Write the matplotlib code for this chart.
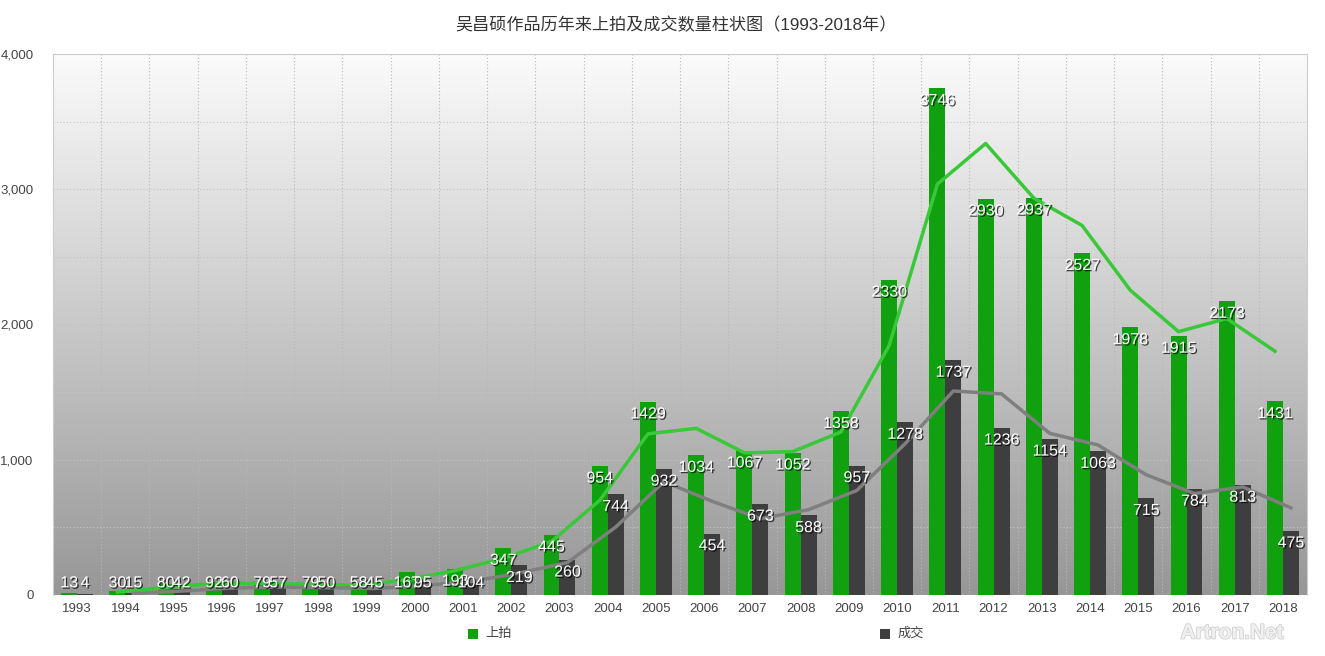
import numpy as np
import matplotlib
matplotlib.use("Agg")
import matplotlib.pyplot as plt
import matplotlib.patheffects as pe
from matplotlib.patches import Rectangle

plt.rcParams["font.family"] = ["Liberation Sans", "Noto Sans CJK SC", "DejaVu Sans"]

# =============================================================================

years = [str(y) for y in range(1993, 2019)]
auctioned = [13, 30, 80, 92, 79, 79, 58, 167, 193, 347, 445, 954, 1429, 1034,
             1067, 1052, 1358, 2330, 3746, 2930, 2937, 2527, 1978, 1915, 2173, 1431]
sold = [4, 15, 42, 60, 57, 50, 45, 95, 104, 219, 260, 744, 932, 454,
        673, 588, 957, 1278, 1737, 1236, 1154, 1063, 715, 784, 813, 475]
# trend lines (start at 1994)
auctioned_trend = [22, 55, 86, 86, 79, 69, 113, 180, 270, 396, 700, 1192, 1232,
                   1051, 1060, 1205, 1844, 3038, 3338, 2934, 2732, 2253, 1947, 2044, 1802]
sold_trend = [10, 29, 51, 59, 54, 48, 70, 100, 162, 240, 502, 838, 693,
              564, 631, 773, 1118, 1508, 1487, 1195, 1109, 889, 750, 799, 644]

GREEN = "#10a010"
DARK = "#3e3e3e"

# =============================================================================

fig = plt.figure(figsize=(13.25, 6.56), dpi=100)
ax = fig.add_axes([0.04, 0.093, 0.9465, 0.8247])

n = len(years)
idx = np.arange(n)
w = 0.33
ax.set_xlim(-0.5, n - 0.5)
ax.set_ylim(0, 4000)

# gradient background
grad = np.linspace(0, 1, 256).reshape(-1, 1)
ax.imshow(grad, extent=(-0.5, n - 0.5, 0, 4000), aspect="auto", origin="lower",
          cmap=matplotlib.colors.LinearSegmentedColormap.from_list(
              "bg", ["#979797", "#fbfbfb"]), zorder=0)

# grid
for y in np.arange(500, 4000, 500):
    ax.axhline(y, color="#c4c4c4", lw=0.8, ls=(0, (1, 2)), zorder=1)
for x in np.arange(0.5, n - 0.5, 1):
    ax.axvline(x, color="#b8b8b8", lw=0.8, ls=(0, (1, 2)), zorder=1)

ax.bar(idx - w / 2, auctioned, width=w, color=GREEN, zorder=2)
ax.bar(idx + w / 2, sold, width=w, color=DARK, zorder=2)

ax.plot(idx[1:] - w / 2, auctioned_trend, color="#38c838", lw=2.5, zorder=3,
        solid_joinstyle="round")
ax.plot(idx[1:] + w / 2, sold_trend, color="#7f7f7f", lw=2.5, zorder=3,
        solid_joinstyle="round")

shadow = [pe.withSimplePatchShadow(offset=(1, -1), shadow_rgbFace="black", alpha=0.7)]
for i in range(n):
    for xo, v in ((-w / 2, auctioned[i]), (w / 2, sold[i])):
        ax.text(i + xo, max(v - 90, 90), str(v), ha="center", va="center",
                fontsize=11.5, color="white", path_effects=shadow, zorder=5)

ax.set_yticks([0, 1000, 2000, 3000, 4000])
ax.set_yticklabels(["0", "1,000", "2,000", "3,000", "4,000"])
ax.set_xticks(idx)
ax.set_xticklabels(years)
ax.tick_params(axis="both", length=0, labelsize=9.5, colors="#444444")
ax.tick_params(axis="x", pad=6)
ax.tick_params(axis="y", pad=14)
for s in ax.spines.values():
    s.set_color("#cccccc")
    s.set_linewidth(0.8)
ax.spines["bottom"].set_visible(False)

fig.text(0.51, 0.962, "吴昌硕作品历年来上拍及成交数量柱状图（1993-2018年）",
         ha="center", va="center", fontsize=12.3, color="#333333")

# legend
for xl, col, lab in ((0.353, GREEN, "上拍"), (0.664, DARK, "成交")):
    fig.patches.append(Rectangle((xl, 0.026), 0.0075, 0.015, transform=fig.transFigure,
                                 facecolor=col, edgecolor="none"))
    fig.text(xl + 0.0135, 0.034, lab, ha="left", va="center", fontsize=9.5, color="#444444")

# watermark
fig.text(0.93, 0.035, "Artron.Net", ha="center", va="center", fontsize=15,
         color="#f0f0f0", fontweight="bold",
         path_effects=[pe.withStroke(linewidth=1.2, foreground="#d0d0d0")])

plt.savefig("out.png", dpi=100)
plt.close()
